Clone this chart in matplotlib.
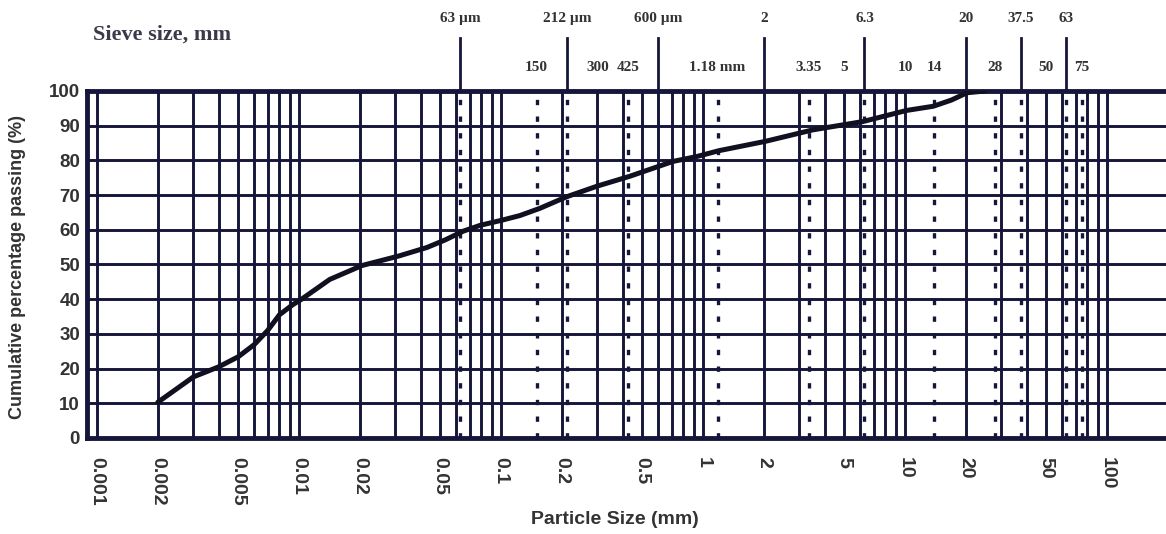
import numpy as np
import matplotlib
matplotlib.use("Agg")
import matplotlib.pyplot as plt

# grading curve
size_mm = [0.002, 0.003, 0.004, 0.005, 0.006, 0.007, 0.008, 0.0093, 0.0103,
           0.0142, 0.0205, 0.031, 0.043, 0.053, 0.065, 0.079, 0.1, 0.124, 0.156,
           0.211, 0.3, 0.433, 0.71, 0.93, 1.2, 2.04, 3.5, 6.2, 10.2, 13.8, 17.0,
           20.3, 25.0]
passing = [10.3, 17.6, 20.5, 23.4, 26.9, 31.0, 35.5, 38.4, 40.0,
           45.7, 49.7, 52.4, 54.9, 57.1, 59.6, 61.3, 62.7, 64.1, 66.2,
           69.5, 72.6, 75.4, 79.7, 81.1, 82.8, 85.5, 88.8, 91.2, 94.4, 95.6, 97.4,
           99.5, 100.0]

# sieve sizes (mm)
sieve_upper = [0.063, 0.212, 0.6, 2, 6.3, 20, 37.5, 63]
sieve_upper_lab = ["63 \u00b5m", "212 \u00b5m", "600 \u00b5m", "2", "6.3", "20", "37.5", "63"]
sieve_lower = [0.15, 0.3, 0.425, 1.18, 3.35, 5, 10, 14, 28, 50, 75]
sieve_lower_lab = ["150", "300", "425", "1.18 mm", "3.35", "5", "10", "14", "28", "50", "75"]
sieve_dotted = [0.063, 0.15, 0.212, 0.425, 1.18, 3.35, 6.3, 14, 28, 37.5, 63, 75]

xticks = [0.001, 0.002, 0.005, 0.01, 0.02, 0.05, 0.1, 0.2, 0.5, 1, 2, 5, 10, 20, 50, 100]
xtick_lab = ["0.001", "0.002", "0.005", "0.01", "0.02", "0.05", "0.1", "0.2", "0.5",
             "1", "2", "5", "10", "20", "50", "100"]

ink = "#16163a"
txt = "#333333"

fig = plt.figure(figsize=(11.66, 5.34), dpi=100)
ax = fig.add_axes([0.0746, 0.1798, 0.9254, 0.6498])
ax.set_xscale("log")
ax.set_xlim(0.000892, 196)
ax.set_ylim(0, 100)

###grid
for dec in [0.001, 0.01, 0.1, 1, 10]:
    for m in range(1, 10):
        ax.axvline(dec*m, color=ink, lw=2.1, zorder=1)
ax.axvline(100, color=ink, lw=2.1, zorder=1)
for yy in range(10, 100, 10):
    ax.axhline(yy, color=ink, lw=2.1, zorder=1)

###sieve lines
for s in sieve_dotted:
    ax.axvline(s, color=ink, lw=2.4, ls=(0, (1.6, 3.4)), zorder=1)

trans = ax.get_xaxis_transform()
for s, lab in zip(sieve_upper, sieve_upper_lab):
    ax.plot([s, s], [1.0, 1.153], color=ink, lw=2, transform=trans, clip_on=False)
    ax.text(s, 1.21, lab, transform=trans, ha="center", va="center", fontsize=11,
            family="Liberation Serif", fontweight="bold", color=txt)
for s, lab in zip(sieve_lower, sieve_lower_lab):
    ax.text(s, 1.069, lab, transform=trans, ha="center", va="center", fontsize=11,
            family="Liberation Serif", fontweight="bold", color=txt)

fig.text(93/1166, 1-35/534, "Sieve size, mm", ha="left", va="center", fontsize=16,
         family="Liberation Serif", fontweight="bold", color="#3a3a4a")

###curve
ax.plot(size_mm, passing, color="#101020", lw=3.6, zorder=3,
        solid_capstyle="round", solid_joinstyle="round")

###axes
for side in ["left", "top", "bottom"]:
    ax.spines[side].set_linewidth(3.5)
    ax.spines[side].set_color(ink)
ax.spines["right"].set_visible(False)

ax.set_xticks(xticks)
ax.set_xticklabels(xtick_lab, rotation=270, fontsize=14, fontweight="bold",
                   family="Liberation Sans", color=txt, va="top")
ax.xaxis.set_minor_locator(matplotlib.ticker.NullLocator())
ax.set_yticks(range(0, 101, 10))
ax.set_yticklabels([str(v) for v in range(0, 101, 10)], fontsize=13.5,
                   fontweight="bold", family="Liberation Sans", color=txt)
ax.tick_params(axis="x", length=0, pad=14)
ax.tick_params(axis="y", length=0, pad=5)

fig.text(18/1166, 0.5, "Cumulative percentage passing (%)", rotation=90, ha="center",
         va="center", fontsize=13, fontweight="bold", family="Liberation Sans", color=txt)
fig.text(615/1166, 1-520/534, "Particle Size (mm)", ha="center", va="center",
         fontsize=14, fontweight="bold", family="Liberation Sans", color=txt)

fig.savefig("out.png", dpi=100)
